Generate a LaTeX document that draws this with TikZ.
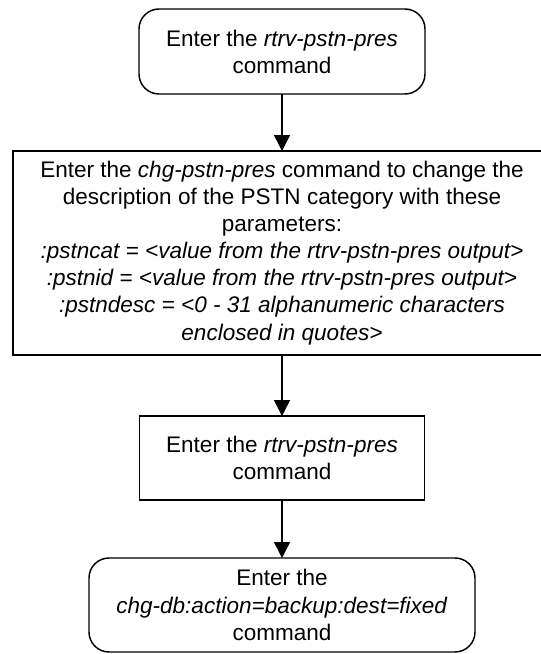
\documentclass[tikz,border=0pt]{standalone}
\usepackage{fontspec}
\setmainfont{Liberation Sans}
\usetikzlibrary{arrows.meta}
\begin{document}
\begin{tikzpicture}[x=0.75pt,y=-0.75pt,
  every node/.style={font=\fontsize{16.9}{20.3}\selectfont, align=center, inner sep=0pt, outer sep=0pt},
  boxbase/.style={draw, line width=1.1pt},
  roundbox/.style={boxbase, rounded corners=15pt},
  rectbox/.style={boxbase},
  flowarrow/.style={line width=1.1pt, -{Triangle[width=12pt,length=12pt]}}]
\useasboundingbox (0,0) rectangle (540,654);
\fill[white] (0,0) rectangle (540,654);
\node[roundbox, minimum width=214.5pt, minimum height=63.75pt] (b1) at (282,51.5)
  {Enter the \textit{rtrv-pstn-pres}\\command};
\node[rectbox, minimum width=403.5pt, minimum height=153pt] (b2) at (282,253)
  {Enter the \textit{chg-pstn-pres} command to change the\\
   description of the PSTN category with these\\
   parameters:\\
   \textit{:pstncat = <value from the rtrv-pstn-pres output>}\\
   \textit{:pstnid = <value from the rtrv-pstn-pres output>}\\
   \textit{:pstndesc = <0 - 31 alphanumeric characters}\\
   \textit{enclosed in quotes>}};
\node[rectbox, minimum width=213.75pt, minimum height=63pt] (b3) at (282,458)
  {Enter the \textit{rtrv-pstn-pres}\\command};
\node[roundbox, minimum width=289.5pt, minimum height=70.5pt] (b4) at (282,605)
  {Enter the\\\textit{chg-db:action=backup:dest=fixed}\\command};
\draw[flowarrow] (b1) -- (b2);
\draw[flowarrow] (b2) -- (b3);
\draw[flowarrow] (b3) -- (b4);
\end{tikzpicture}
\end{document}
